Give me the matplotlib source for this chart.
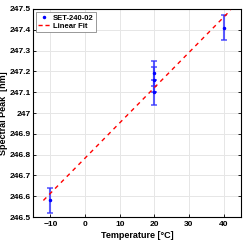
import numpy as np
import matplotlib
matplotlib.use("Agg")
import matplotlib.pyplot as plt
from matplotlib.ticker import FuncFormatter
from matplotlib.lines import Line2D

# measured peaks
temp = [-10, 20, 20, 20, 40]
peak = [246.58, 247.19, 247.16, 247.10, 247.41]
err = [0.06, 0.06, 0.06, 0.06, 0.06]

fit_x = [-12, 42]

plt.rcParams['font.family'] = ['Liberation Sans', 'DejaVu Sans']
plt.rcParams['font.weight'] = 'bold'

fig = plt.figure(figsize=(2.49, 2.42), dpi=100)
ax = fig.add_axes([0.1325, 0.103, 0.8355, 0.86])

p = np.polyfit(temp, peak, 1)
fx = np.array(fit_x)

ax.errorbar(temp, peak, yerr=err, fmt='.', color='blue', ecolor=(0.2, 0.2, 1.0, 0.8),
            markersize=3, capsize=2.5, elinewidth=1.5, capthick=1.2, zorder=3)
ax.plot(fx, np.polyval(p, fx), '--', color='red', lw=1.0, dashes=(3, 3), zorder=4)

ax.set_xlim(-15, 45)
ax.set_ylim(246.5, 247.5)
ax.set_xticks([-10, 0, 10, 20, 30, 40])
ax.set_yticks(np.arange(246.5, 247.51, 0.1))
ax.yaxis.set_major_formatter(FuncFormatter(lambda v, pos: '%g' % round(v, 1)))
ax.grid(True, color='#e6e6e6', lw=0.7)
ax.set_axisbelow(True)
ax.tick_params(direction='in', length=2.5, width=0.6, labelsize=6, top=False, right=True)
ax.tick_params(axis='y', pad=1.5)
ax.tick_params(axis='x', pad=3)
for s in ax.spines.values():
    s.set_linewidth(0.8)

ax.set_xlabel('Temperature [°C]', fontsize=6.5, fontweight='bold', labelpad=2)
ax.set_ylabel('Spectral Peak  [nm]', fontsize=6.5, fontweight='bold')
ax.yaxis.set_label_coords(-0.118, 0.5)

handles = [Line2D([], [], ls='none', marker='.', color='blue', markersize=3),
           Line2D([], [], color='red', ls='--', lw=1.0, dashes=(3, 2))]
leg = ax.legend(handles, ['SET-240-02', 'Linear Fit'], loc='upper left', fontsize=5.5,
                frameon=True, fancybox=False, edgecolor='#888888',
                handlelength=1.6, borderpad=0.3, labelspacing=0.15, handletextpad=0.3,
                borderaxespad=0.4, framealpha=1)
leg.get_frame().set_linewidth(0.6)

fig.savefig('out.png', dpi=100)
